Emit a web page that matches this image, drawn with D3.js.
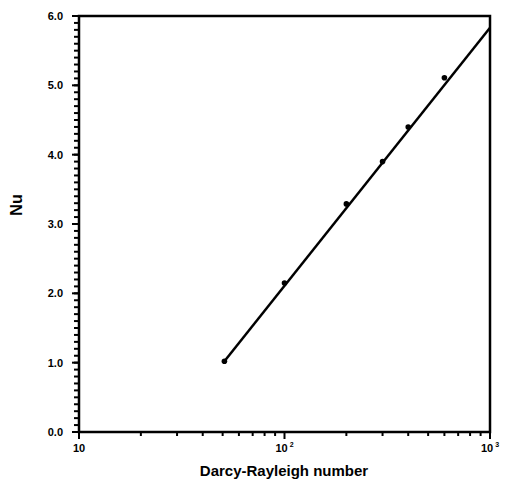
<!DOCTYPE html>
<html>
<head>
<meta charset="utf-8">
<script src="https://cdn.jsdelivr.net/npm/d3@7"></script>
<style>
  body { margin: 0; background: #fff; }
  text { font-family: "Liberation Sans", Arial, sans-serif; font-weight: bold; fill: #000; }
</style>
</head>
<body>
<script>
const width = 507;
const height = 485;

// measured points (Darcy-Rayleigh number, Nu)
const rayleigh = [51, 100, 200, 300, 400, 600];
const nusselt = [1.02, 2.15, 3.29, 3.9, 4.4, 5.11];
// fitted line end points
const fitX = [51, 1000];
const fitY = [1.02, 5.83];

const yTicks = [0, 1, 2, 3, 4, 5, 6];
const xMajor = [10, 100, 1000];
const xLabels = [["10", ""], ["10", "2"], ["10", "3"]];

const x = d3.scaleLog().domain([10, 1000]).range([79, 490]);
const y = d3.scaleLinear().domain([0, 6]).range([432, 16]);

const svg = d3.select("body").append("svg")
  .attr("width", width)
  .attr("height", height);

// frame
svg.append("rect")
  .attr("x", x(10)).attr("y", y(6))
  .attr("width", x(1000) - x(10)).attr("height", y(0) - y(6))
  .attr("fill", "none").attr("stroke", "#000").attr("stroke-width", 2.5);

// y minor ticks every 0.1
const yMinor = d3.range(0, 60).map(d => d / 10);
svg.append("g").selectAll("line").data(yMinor).enter().append("line")
  .attr("x1", x(10)).attr("x2", x(10) - 5)
  .attr("y1", d => y(d)).attr("y2", d => y(d))
  .attr("stroke", "#000").attr("stroke-width", 2);

svg.append("g").selectAll("line").data(yTicks).enter().append("line")
  .attr("x1", x(10)).attr("x2", x(10) - 7)
  .attr("y1", d => y(d)).attr("y2", d => y(d))
  .attr("stroke", "#000").attr("stroke-width", 2);

svg.append("g").selectAll("text").data(yTicks).enter().append("text")
  .attr("x", x(10) - 16)
  .attr("y", d => y(d) + 4)
  .attr("text-anchor", "end")
  .style("font-size", "11px")
  .text(d => d.toFixed(1));

// x log ticks
const xMinor = [];
[10, 100].forEach(b => { for (let i = 2; i <= 9; i++) xMinor.push(b * i); });
svg.append("g").selectAll("line").data(xMinor).enter().append("line")
  .attr("x1", d => x(d)).attr("x2", d => x(d))
  .attr("y1", y(0)).attr("y2", y(0) + 4)
  .attr("stroke", "#000").attr("stroke-width", 2);

svg.append("g").selectAll("line").data(xMajor).enter().append("line")
  .attr("x1", d => x(d)).attr("x2", d => x(d))
  .attr("y1", y(0)).attr("y2", y(0) + 7)
  .attr("stroke", "#000").attr("stroke-width", 2);

const xl = svg.append("g").selectAll("text").data(xMajor).enter().append("text")
  .attr("x", d => x(d))
  .attr("y", y(0) + 20)
  .attr("text-anchor", "middle")
  .style("font-size", "11px");
xl.append("tspan").text((d, i) => xLabels[i][0]);
xl.append("tspan").attr("dx", 2).attr("dy", -5).style("font-size", "7px")
  .text((d, i) => xLabels[i][1]);

// axis titles
svg.append("text")
  .attr("x", 284).attr("y", 476)
  .attr("text-anchor", "middle")
  .style("font-size", "15px")
  .text("Darcy-Rayleigh number");

svg.append("text")
  .attr("transform", "translate(22," + 205 + ") rotate(-90)")
  .attr("text-anchor", "middle")
  .style("font-size", "16px")
  .text("Nu");

// fitted line
const line = d3.line().x(d => x(d[0])).y(d => y(d[1]));
svg.append("path")
  .datum(fitX.map((d, i) => [d, fitY[i]]))
  .attr("d", line)
  .attr("fill", "none").attr("stroke", "#000").attr("stroke-width", 2.5);

// data points
svg.append("g").selectAll("circle").data(rayleigh).enter().append("circle")
  .attr("cx", d => x(d))
  .attr("cy", (d, i) => y(nusselt[i]))
  .attr("r", 2.8)
  .attr("fill", "#000");
</script>
</body>
</html>
